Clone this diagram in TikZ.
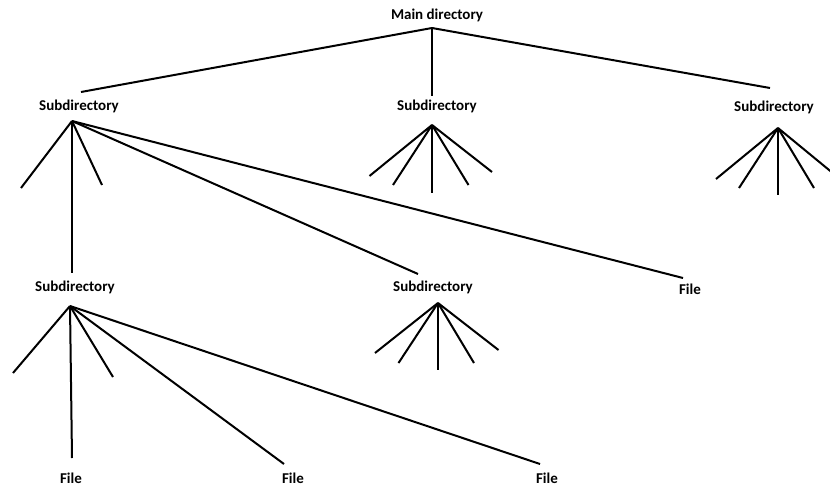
\documentclass[tikz,border=0pt]{standalone}
\usepackage{fontspec}
\setmainfont{Carlito}
\usetikzlibrary{positioning}

\tikzset{
  dirlabel/.style={font=\bfseries\fontsize{15}{18}\selectfont, inner sep=0pt},
  branch/.style={line width=2pt}
}

\begin{document}
\begin{tikzpicture}[x=1pt, y=-1pt]
\useasboundingbox (0,0) rectangle (830,487);
\clip (0,0) rectangle (830,487);

\node[dirlabel] (main) at (437,15) {Main directory};
\node[dirlabel] (subA) at (79,106) {Subdirectory};
\node[dirlabel] (subB) at (437,106) {Subdirectory};
\node[dirlabel] (subC) at (774,107) {Subdirectory};
\node[dirlabel] (subD) at (75,287) {Subdirectory};
\node[dirlabel] (subE) at (433,287) {Subdirectory};
\node[dirlabel] (fileA) at (690,289) {File};
\node[dirlabel] (fileB) at (71,478) {File};
\node[dirlabel] (fileC) at (293,478) {File};
\node[dirlabel] (fileD) at (547,478) {File};

% where the branches fan out
\coordinate (mainFan) at (432,28);
\coordinate (subAFan) at (72,121);
\coordinate (subBFan) at (432,125);
\coordinate (subCFan) at (778,128);
\coordinate (subDFan) at (70,306);
\coordinate (subEFan) at (438,303);

% line ends above the labels
\coordinate (subATop) at (81,92);
\coordinate (subBTop) at (432,96);
\coordinate (subCTop) at (770,88);
\coordinate (subDTop) at (72,273);
\coordinate (subETop) at (418,274);
\coordinate (fileATop) at (683,278);
\coordinate (fileBTop) at (72,458);
\coordinate (fileCTop) at (284,464);
\coordinate (fileDTop) at (540,464);

\draw[branch] (mainFan) -- (subATop);
\draw[branch] (mainFan) -- (subBTop);
\draw[branch] (mainFan) -- (subCTop);

\draw[branch] (subAFan) -- (subDTop);
\draw[branch] (subAFan) -- (subETop);
\draw[branch] (subAFan) -- (fileATop);

\draw[branch] (subDFan) -- (fileBTop);
\draw[branch] (subDFan) -- (fileCTop);
\draw[branch] (subDFan) -- (fileDTop);

% open ends
\foreach \p [count=\i] in {{21,188},{102,185}} {
    \coordinate (subALeaf\i) at (\p);
    \draw[branch] (subAFan) -- (subALeaf\i);
}
\foreach \p [count=\i] in {{369.5,176},{393,185},{432,193},{468.5,185},{492,172}} {
    \coordinate (subBLeaf\i) at (\p);
    \draw[branch] (subBFan) -- (subBLeaf\i);
}
\foreach \p [count=\i] in {{716,179},{739,188},{778,195},{814,188},{840,179}} {
    \coordinate (subCLeaf\i) at (\p);
    \draw[branch] (subCFan) -- (subCLeaf\i);
}
\foreach \p [count=\i] in {{13,373},{113,377}} {
    \coordinate (subDLeaf\i) at (\p);
    \draw[branch] (subDFan) -- (subDLeaf\i);
}
\foreach \p [count=\i] in {{375,353},{398.5,363},{438,370},{474,363},{498.5,350}} {
    \coordinate (subELeaf\i) at (\p);
    \draw[branch] (subEFan) -- (subELeaf\i);
}
\end{tikzpicture}
\end{document}
